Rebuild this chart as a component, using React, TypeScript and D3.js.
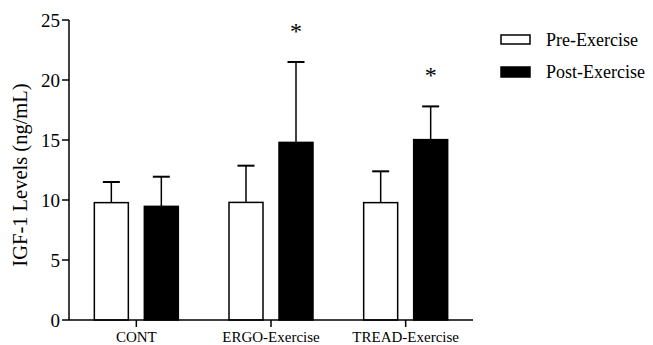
import * as d3 from 'd3';

const categories = ['CONT', 'ERGO-Exercise', 'TREAD-Exercise'];
const preMeans = [9.78, 9.8, 9.78];
const preErrors = [1.72, 3.06, 2.61];
const postMeans = [9.47, 14.8, 15.03];
const postErrors = [2.47, 6.7, 2.77];
const significant = [false, true, true];
const yTicks = [0, 5, 10, 15, 20, 25];
const seriesNames = ['Pre-Exercise', 'Post-Exercise'];

const width = 653;
const height = 345;
const margin = { top: 20, right: 180, bottom: 25, left: 69 };
const serif = { fontFamily: "'Liberation Serif', 'Times New Roman', Times, serif" };

const App = () => {
  const x = d3.scaleBand()
    .domain(categories)
    .range([margin.left, width - margin.right])
    .padding(0);

  const y = d3.scaleLinear()
    .domain([0, 25])
    .range([height - margin.bottom, margin.top]);

  const barW = 34;
  const gap = 8;
  const capW = 17;

  const series = [
    { means: preMeans, errs: preErrors, fill: '#fff', offset: -gap - barW },
    { means: postMeans, errs: postErrors, fill: '#000', offset: gap },
  ];

  return (
    <svg width={width} height={height} style={{ position: 'absolute', left: 0, top: 0, ...serif }}>
      {/* bars and error bars */}
      {series.map((s, si) =>
        categories.map((c, i) => {
          const cx = x(c)! + x.bandwidth() / 2 + s.offset;
          const mid = cx + barW / 2;
          const top = y(s.means[i]);
          const errTop = y(s.means[i] + s.errs[i]);
          return (
            <g key={`${si}-${c}`}>
              <line x1={mid} x2={mid} y1={top} y2={errTop} stroke="#000" strokeWidth={1.5} />
              <line x1={mid - capW / 2} x2={mid + capW / 2} y1={errTop} y2={errTop} stroke="#000" strokeWidth={2} />
              <rect x={cx} y={top} width={barW} height={y(0) - top}
                fill={s.fill} stroke="#000" strokeWidth={1.5} />
            </g>
          );
        })
      )}

      {/* significance markers */}
      {categories.map((c, i) => significant[i] ? (
        <text key={`sig-${c}`} x={x(c)! + x.bandwidth() / 2 + gap + barW / 2}
          y={y(postMeans[i] + postErrors[i]) - 23}
          textAnchor="middle" fontSize={24} style={serif}>*</text>
      ) : null)}

      {/* y axis */}
      <line x1={margin.left} x2={margin.left} y1={y(25)} y2={y(0)} stroke="#000" strokeWidth={1.5} />
      {yTicks.map(t => (
        <g key={`yt-${t}`}>
          <line x1={margin.left - 7} x2={margin.left} y1={y(t)} y2={y(t)} stroke="#000" strokeWidth={1.5} />
          <text x={margin.left - 9} y={y(t)} dy="0.35em" textAnchor="end" fontSize={19} style={serif}>{t}</text>
        </g>
      ))}
      <text transform={`translate(27,175) rotate(-90)`}
        textAnchor="middle" fontSize={20.5} style={serif}>IGF-1 Levels (ng/mL)</text>

      {/* x axis */}
      <line x1={margin.left} x2={width - margin.right} y1={y(0)} y2={y(0)} stroke="#000" strokeWidth={1.5} />
      {categories.map(c => {
        const cx = x(c)! + x.bandwidth() / 2;
        return (
          <g key={`xt-${c}`}>
            <line x1={cx} x2={cx} y1={y(0)} y2={y(0) + 7} stroke="#000" strokeWidth={1.5} />
            <text x={cx} y={y(0) + 22} textAnchor="middle" fontSize={15} style={serif}>{c}</text>
          </g>
        );
      })}

      {/* legend */}
      {seriesNames.map((n, i) => (
        <g key={n} transform={`translate(501,${35 + i * 32})`}>
          <rect x={0} y={0} width={29} height={i === 0 ? 9 : 10} fill={i === 0 ? '#fff' : '#000'} stroke="#000" strokeWidth={1.5} />
          <text x={45} y={5} dy="0.35em" fontSize={18} style={serif}>{n}</text>
        </g>
      ))}
    </svg>
  );
};

export default App;
